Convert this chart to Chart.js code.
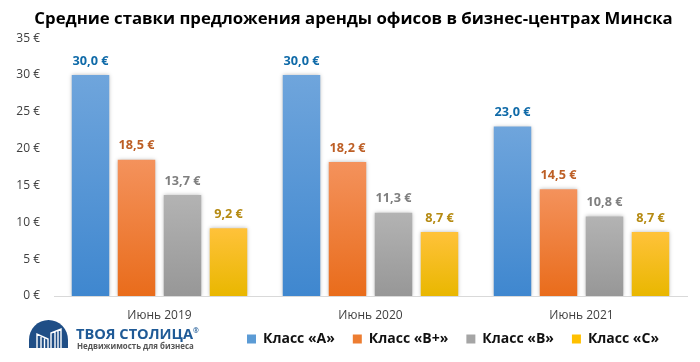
<!DOCTYPE html>
<html>
<head>
<meta charset="utf-8">
<style>
  html, body { margin: 0; padding: 0; background: #fff; }
  #wrap { position: relative; width: 700px; height: 362px; overflow: hidden; }
  #logo { position: absolute; left: 29px; top: 320px; }
  #brand { position: absolute; left: 76px; top: 323px; font: bold 14.6px "Open Sans", sans-serif; color: #1f5a96; white-space: nowrap; line-height: 20px; }
  #brand sup { font-size: 7px; line-height: 0; }
  #slogan { position: absolute; left: 77px; top: 340px; font: bold 7.9px "Open Sans", sans-serif; color: #555; white-space: nowrap; line-height: 12px; }
</style>
</head>
<body>
<div id="wrap">
  <canvas id="chart" width="700" height="362"></canvas>
  <svg id="logo" width="39" height="28" viewBox="0 0 39 28">
    <path d="M0 28 V20 A19.5 20 0 0 1 39 20 V28 Z" fill="#1f4e86"/>
    <path d="M8 28 V14 L19 19 V28 M12 28 V17 M15.5 28 V18.5 M22 28 V13 L32 9 V28 M26 28 V12 M29 28 V11" fill="none" stroke="#fff" stroke-width="1.4"/>
  </svg>
  <div id="brand">ТВОЯ СТОЛИЦА<sup>®</sup></div>
  <div id="slogan">Недвижимость для бизнеса</div>
</div>
<script src="https://cdn.jsdelivr.net/npm/chart.js@4"></script>
<script>
  const chartTitle = "Средние ставки предложения аренды офисов в бизнес-центрах Минска";
  const periods = ["Июнь 2019", "Июнь 2020", "Июнь 2021"];
  const classA = [30.0, 30.0, 23.0];
  const classBPlus = [18.5, 18.2, 14.5];
  const classB = [13.7, 11.3, 10.8];
  const classC = [9.2, 8.7, 8.7];

  const fontFamily = '"Open Sans", sans-serif';

  // Vertical gradient per bar, lighter at the top
  const barGradient = (top, bottom) => (ctx) => {
    const { chart, raw } = ctx;
    if (!chart.chartArea || raw === undefined) return bottom;
    const y = chart.scales.y;
    const g = chart.ctx.createLinearGradient(0, y.getPixelForValue(raw), 0, y.getPixelForValue(0));
    g.addColorStop(0, top);
    g.addColorStop(1, bottom);
    return g;
  };

  const makeSeries = (label, data, top, bottom, legendColor, textColor) => ({
    label,
    data,
    backgroundColor: barGradient(top, bottom),
    legendColor,
    textColor,
    categoryPercentage: 0.872,
    barPercentage: 0.815,
  });

  const barShadow = {
    id: "barShadow",
    beforeDatasetDraw(chart) {
      const c = chart.ctx;
      c.save();
      c.shadowColor = "rgba(0,0,0,0.28)";
      c.shadowBlur = 4;
      c.shadowOffsetX = 0;
      c.shadowOffsetY = 0;
    },
    afterDatasetDraw(chart) {
      chart.ctx.restore();
    },
  };

  const valueLabels = {
    id: "valueLabels",
    afterDatasetsDraw(chart) {
      const c = chart.ctx;
      c.save();
      c.font = `bold 12.7px ${fontFamily}`;
      c.textAlign = "center";
      c.textBaseline = "middle";
      chart.data.datasets.forEach((ds, i) => {
        c.fillStyle = ds.textColor;
        chart.getDatasetMeta(i).data.forEach((bar, j) => {
          const txt = ds.data[j].toFixed(1).replace(".", ",") + " €";
          c.fillText(txt, bar.x, bar.y - 14);
        });
      });
      c.restore();
    },
  };

  // Pull the legend's right edge in and let tick labels use the room outside
  // their squeezed boxes, the plot keeps its size
  const layoutTweaks = {
    id: "layoutTweaks",
    afterLayout(chart) {
      chart.legend.right -= 10;
      chart.scales.x.bottom = chart.height;
      chart.scales.y.left = 0;
    },
  };

  new Chart(document.getElementById("chart"), {
    type: "bar",
    data: {
      labels: periods,
      datasets: [
        makeSeries("Класс «А»", classA, "#6fa5dc", "#3f87cf", "#5b9bd5", "#0f6aa8"),
        makeSeries("Класс «В+»", classBPlus, "#f4925c", "#e96c1b", "#ed7d31", "#bd5f26"),
        makeSeries("Класс «В»", classB, "#b3b3b3", "#979797", "#a5a5a5", "#7f7f7f"),
        makeSeries("Класс «С»", classC, "#ffc23a", "#e9b700", "#ffc000", "#b58a12"),
      ],
    },
    options: {
      responsive: false,
      animation: false,
      layout: { padding: { left: 20, right: 13, top: 0, bottom: 6 } },
      plugins: {
        title: {
          display: true,
          text: chartTitle,
          color: "#000",
          font: { family: fontFamily, size: 16.75, weight: "bold" },
          padding: { top: 9, bottom: 9 },
        },
        legend: {
          position: "bottom",
          align: "end",
          labels: {
            boxWidth: 9,
            boxHeight: 9,
            padding: 18,
            color: "#111",
            font: { family: fontFamily, size: 14, weight: "bold" },
            generateLabels: (chart) =>
              chart.data.datasets.map((ds, i) => ({
                text: ds.label,
                fillStyle: ds.legendColor,
                lineWidth: 0,
                strokeStyle: ds.legendColor,
                fontColor: "#111",
                datasetIndex: i,
              })),
          },
        },
        tooltip: { enabled: false },
      },
      scales: {
        x: {
          afterFit: (s) => { s.height = 18; },
          grid: { display: false, drawTicks: false },
          border: { color: "#d9d9d9" },
          ticks: { color: "#404040", font: { family: fontFamily, size: 12 }, padding: 12 },
        },
        y: {
          min: 0,
          max: 35,
          afterFit: (s) => { s.width = 34; },
          grid: { display: false, drawTicks: false },
          border: { display: false },
          ticks: {
            stepSize: 5,
            color: "#404040",
            font: { family: fontFamily, size: 12 },
            padding: 14,
            callback: (v) => `${v} €`,
          },
        },
      },
    },
    plugins: [barShadow, valueLabels, layoutTweaks],
  });
</script>
</body>
</html>
